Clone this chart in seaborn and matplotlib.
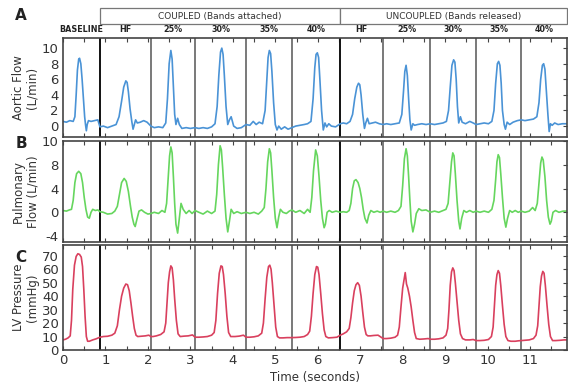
import numpy as np
import pandas as pd
import matplotlib
matplotlib.use("Agg")
import matplotlib.pyplot as plt
from matplotlib.patches import Rectangle
from matplotlib.ticker import MultipleLocator
import seaborn as sns

# ---------------- data ----------------
BEAT_EDGES = [0.87, 2.07, 3.11, 4.31, 5.39, 6.53, 7.54, 8.65, 9.73, 10.79]
BEAT_CENTERS = [0.435, 1.47, 2.59, 3.71, 4.85, 5.96, 7.035, 8.095, 9.19, 10.26, 11.33]
BEAT_LABELS = ["BASELINE", "HF", "25%", "30%", "35%", "40%", "HF", "25%", "30%", "35%", "40%"]
GROUP_LABELS = ["COUPLED (Bands attached)", "UNCOUPLED (Bands released)"]
GROUP_SPANS = [(0.87, 6.53), (6.53, 11.87)]

AORTIC_T = [
    0.00, 0.08, 0.16, 0.24, 0.28, 0.31, 0.34, 0.37, 0.39, 0.42, 0.45, 0.48, 0.51, 0.53, 0.55, 0.57, 0.60, 0.66, 0.74, 0.82,
    0.87, 0.95, 1.05, 1.15, 1.25, 1.32, 1.38, 1.43, 1.48, 1.51, 1.54, 1.58, 1.62, 1.65, 1.68, 1.71, 1.75, 1.82, 1.90, 1.98,
    2.07, 2.15, 2.25, 2.35, 2.42, 2.46, 2.50, 2.54, 2.57, 2.60, 2.63, 2.66, 2.70, 2.74, 2.80, 2.90, 3.00,
    3.11, 3.20, 3.30, 3.40, 3.50, 3.58, 3.63, 3.67, 3.71, 3.74, 3.77, 3.80, 3.84, 3.88, 3.92, 3.96, 4.02, 4.10, 4.20,
    4.31, 4.40, 4.48, 4.55, 4.62, 4.70, 4.76, 4.80, 4.83, 4.86, 4.89, 4.92, 4.96, 5.00, 5.04, 5.08, 5.14, 5.22, 5.30,
    5.39, 5.48, 5.58, 5.68, 5.76, 5.84, 5.89, 5.93, 5.96, 5.99, 6.02, 6.05, 6.09, 6.13, 6.17, 6.21, 6.26, 6.32, 6.42,
    6.53, 6.60, 6.68, 6.76, 6.82, 6.87, 6.92, 6.96, 6.99, 7.02, 7.06, 7.10, 7.13, 7.17, 7.21, 7.28, 7.36, 7.45,
    7.54, 7.62, 7.72, 7.82, 7.92, 7.98, 8.02, 8.05, 8.08, 8.11, 8.14, 8.17, 8.20, 8.24, 8.28, 8.35, 8.45, 8.55,
    8.65, 8.75, 8.85, 8.95, 9.03, 9.08, 9.12, 9.16, 9.20, 9.23, 9.26, 9.29, 9.32, 9.36, 9.40, 9.48, 9.58, 9.66,
    9.73, 9.82, 9.92, 10.02, 10.10, 10.15, 10.19, 10.23, 10.26, 10.29, 10.32, 10.35, 10.39, 10.42, 10.46, 10.52, 10.60, 10.70,
    10.79, 10.88, 10.98, 11.08, 11.16, 11.21, 11.25, 11.29, 11.32, 11.35, 11.38, 11.42, 11.45, 11.48, 11.52, 11.58, 11.66, 11.76, 11.87,
]
AORTIC_V = [
    0.6, 0.5, 0.7, 0.6, 1.2, 4.0, 7.2, 8.6, 8.7, 8.0, 6.0, 3.5, 1.2, 0.2, -0.6, 0.2, 0.7, 0.6, 0.7, 0.8,
    -0.1, 0.0, -0.2, 0.0, 0.2, 1.2, 3.2, 5.0, 5.8, 5.6, 4.4, 2.2, 0.6, -0.4, 0.2, 0.8, 0.4, 0.5, 0.7, 0.5,
    0.0, -0.2, -0.1, -0.2, 0.4, 3.5, 8.0, 9.7, 8.6, 5.0, 1.5, 0.2, 1.0, 0.2, -0.3, -0.2, -0.3,
    -0.2, -0.3, -0.2, -0.3, -0.1, 0.3, 2.5, 6.5, 9.5, 10.0, 9.2, 6.5, 2.5, 0.2, 0.8, 1.2, 0.0, -0.3, -0.2,
    0.2, 0.1, 0.6, 0.2, 0.5, 0.3, 2.0, 6.0, 8.8, 9.7, 9.3, 7.0, 3.0, 0.2, -0.5, 0.0, -0.4, -0.1, -0.4,
    -0.2, 0.0, 0.1, 0.2, 0.3, 0.6, 3.5, 7.5, 9.2, 9.4, 8.8, 6.0, 2.0, -0.5, 0.4, -0.1, 0.3, 0.0, -0.1,
    0.3, 0.4, 0.3, 0.6, 1.5, 3.5, 5.0, 5.5, 5.3, 4.0, 1.5, -0.3, 0.4, 1.0, 0.3, 0.4, 0.5, 0.3,
    0.2, 0.3, 0.2, 0.3, 0.4, 1.5, 4.5, 7.0, 7.8, 6.5, 3.5, 0.8, -0.5, 0.3, 0.1, 0.2, 0.3, 0.2,
    0.3, 0.2, 0.3, 0.4, 0.6, 2.0, 5.0, 7.8, 8.5, 8.2, 6.0, 2.5, 0.4, 1.2, 0.5, 0.3, 0.6, 0.4,
    0.2, 0.3, 0.4, 0.3, 0.6, 2.0, 5.5, 8.0, 8.3, 7.8, 5.5, 2.0, 0.2, -0.4, 0.5, 0.2, 0.5, 0.7,
    0.8, 0.7, 0.8, 0.9, 1.2, 3.0, 6.0, 7.8, 8.0, 7.3, 4.8, 1.5, -0.7, 0.3, 0.1, 0.4, 0.2, 0.3, 0.3,
]

PULM_T = [
    0.00, 0.08, 0.15, 0.20, 0.24, 0.28, 0.32, 0.37, 0.42, 0.46, 0.50, 0.54, 0.58, 0.62, 0.66, 0.70, 0.76, 0.82,
    0.87, 0.95, 1.05, 1.15, 1.22, 1.28, 1.33, 1.38, 1.44, 1.49, 1.54, 1.59, 1.63, 1.67, 1.70, 1.74, 1.79, 1.85, 1.92, 2.00,
    2.07, 2.15, 2.25, 2.33, 2.40, 2.44, 2.48, 2.51, 2.54, 2.57, 2.60, 2.63, 2.66, 2.70, 2.74, 2.78, 2.83, 2.90, 2.97, 3.04,
    3.11, 3.20, 3.30, 3.40, 3.50, 3.58, 3.62, 3.66, 3.70, 3.73, 3.76, 3.80, 3.84, 3.88, 3.92, 3.96, 4.02, 4.10, 4.20,
    4.31, 4.40, 4.50, 4.60, 4.68, 4.74, 4.78, 4.82, 4.86, 4.89, 4.92, 4.96, 5.00, 5.04, 5.08, 5.12, 5.18, 5.26, 5.33,
    5.39, 5.48, 5.58, 5.68, 5.76, 5.82, 5.86, 5.90, 5.95, 5.99, 6.03, 6.07, 6.11, 6.15, 6.18, 6.22, 6.27, 6.34, 6.43,
    6.53, 6.60, 6.68, 6.74, 6.78, 6.82, 6.86, 6.90, 6.95, 6.99, 7.03, 7.07, 7.11, 7.16, 7.20, 7.25, 7.32, 7.40, 7.47,
    7.54, 7.62, 7.72, 7.82, 7.90, 7.96, 8.00, 8.04, 8.08, 8.11, 8.14, 8.17, 8.20, 8.24, 8.28, 8.32, 8.38, 8.45, 8.55,
    8.65, 8.75, 8.85, 8.95, 9.02, 9.07, 9.11, 9.15, 9.18, 9.21, 9.24, 9.28, 9.32, 9.35, 9.39, 9.44, 9.50, 9.58, 9.66,
    9.73, 9.82, 9.92, 10.02, 10.10, 10.15, 10.19, 10.22, 10.25, 10.28, 10.31, 10.35, 10.39, 10.43, 10.47, 10.52, 10.58, 10.65, 10.72,
    10.79, 10.88, 10.98, 11.06, 11.12, 11.17, 11.21, 11.25, 11.28, 11.31, 11.35, 11.39, 11.43, 11.47, 11.50, 11.54, 11.60, 11.68, 11.78, 11.87,
]
PULM_V = [
    0.3, 0.2, 0.4, 0.5, 2.0, 5.0, 6.5, 6.9, 6.5, 5.0, 2.5, 0.5, -0.8, -1.0, 0.0, 0.5, 0.3, 0.4,
    0.1, 0.0, -0.3, -0.2, 0.2, 1.0, 3.0, 5.0, 5.7, 5.2, 3.5, 1.0, -0.8, -2.0, -2.4, -1.2, 0.2, 0.4, 0.0, -0.3,
    -0.2, 0.0, -0.2, 0.3, 0.0, 1.5, 6.0, 9.5, 11.0, 10.0, 6.0, 1.5, -2.0, -3.5, -1.0, 1.5, 0.5, -0.2, 0.3, -0.2,
    0.3, 0.0, -0.3, 0.2, -0.2, 0.2, 3.0, 8.0, 11.2, 10.5, 7.5, 3.0, -1.0, -3.3, -1.5, 0.5, -0.2, 0.1, -0.2,
    0.0, -0.2, 0.0, -0.3, 0.2, 0.8, 4.0, 8.5, 10.7, 10.0, 7.0, 2.5, -1.0, -2.6, -0.8, 0.5, 0.0, -0.2, 0.2,
    0.4, 0.0, 0.3, -0.2, 0.5, 0.0, 2.5, 7.0, 10.5, 9.5, 6.0, 2.0, -1.0, -2.6, -2.0, 0.0, 0.3, 0.0, 0.2,
    0.0, 0.1, 0.0, 0.3, 1.5, 4.0, 5.3, 5.5, 5.0, 4.0, 2.5, 0.5, -1.0, -1.8, -0.5, 0.3, 0.0, 0.2, 0.0,
    0.2, 0.0, 0.2, 0.0, 0.3, 1.0, 4.5, 9.0, 10.7, 9.5, 6.0, 2.0, -1.5, -3.3, -2.0, -0.2, 0.6, 0.3, 0.4,
    0.0, 0.2, 0.0, 0.3, 0.5, 1.5, 5.0, 8.5, 10.0, 9.5, 6.5, 2.0, -1.5, -2.8, -1.0, 0.3, 0.0, 0.3, 0.0,
    0.2, 0.0, 0.2, 0.0, 0.5, 2.0, 5.5, 8.5, 9.7, 9.2, 6.5, 2.5, -1.0, -2.5, -1.0, 0.3, 0.0, 0.3, 0.0,
    0.2, 0.0, 0.2, 0.8, 0.3, 1.5, 5.0, 8.3, 9.3, 8.8, 6.0, 2.0, -0.8, -2.0, -1.5, 0.0, 0.3, 0.0, 0.2, 0.2,
]

LVP_T = [
    0.00, 0.06, 0.12, 0.17, 0.20, 0.23, 0.27, 0.31, 0.35, 0.39, 0.43, 0.46, 0.49, 0.52, 0.55, 0.58, 0.62, 0.70, 0.78,
    0.87, 0.95, 1.05, 1.15, 1.22, 1.28, 1.33, 1.38, 1.43, 1.48, 1.52, 1.56, 1.60, 1.64, 1.68, 1.72, 1.76, 1.84, 1.94, 2.02,
    2.07, 2.12, 2.20, 2.30, 2.38, 2.42, 2.45, 2.48, 2.51, 2.54, 2.57, 2.60, 2.63, 2.67, 2.71, 2.76, 2.85, 2.95, 3.05,
    3.11, 3.20, 3.30, 3.40, 3.50, 3.56, 3.60, 3.64, 3.68, 3.72, 3.75, 3.78, 3.82, 3.86, 3.90, 3.95, 4.05, 4.15, 4.25,
    4.31, 4.40, 4.50, 4.60, 4.68, 4.72, 4.76, 4.80, 4.84, 4.87, 4.90, 4.93, 4.97, 5.01, 5.05, 5.10, 5.18, 5.28,
    5.39, 5.48, 5.58, 5.68, 5.76, 5.81, 5.85, 5.89, 5.93, 5.97, 6.00, 6.03, 6.07, 6.11, 6.15, 6.19, 6.25, 6.35, 6.45,
    6.53, 6.60, 6.68, 6.74, 6.78, 6.82, 6.86, 6.90, 6.94, 6.98, 7.02, 7.06, 7.10, 7.14, 7.18, 7.24, 7.32, 7.42,
    7.54, 7.62, 7.72, 7.82, 7.88, 7.92, 7.96, 8.00, 8.03, 8.06, 8.09, 8.12, 8.16, 8.20, 8.24, 8.28, 8.32, 8.40, 8.50, 8.60,
    8.65, 8.75, 8.85, 8.95, 9.02, 9.06, 9.09, 9.12, 9.15, 9.18, 9.21, 9.24, 9.28, 9.32, 9.36, 9.41, 9.48, 9.58, 9.66,
    9.73, 9.82, 9.92, 10.02, 10.09, 10.13, 10.16, 10.19, 10.22, 10.25, 10.28, 10.31, 10.35, 10.39, 10.43, 10.48, 10.55, 10.65, 10.72,
    10.79, 10.88, 10.98, 11.08, 11.14, 11.18, 11.21, 11.24, 11.27, 11.30, 11.33, 11.36, 11.40, 11.44, 11.48, 11.53, 11.60, 11.70, 11.80, 11.87,
]
LVP_V = [
    7.5, 8.0, 9.0, 10.5, 22, 45, 63, 69.5, 71.5, 71, 69, 62, 45, 25, 10, 6.5, 6.5, 7.5, 8.3,
    9.5, 10.0, 10.2, 11.0, 12.5, 18, 30, 40, 46, 49, 48.5, 44, 35, 25, 16, 11, 10, 10.2, 10.5, 11,
    10.0, 10.0, 10.5, 11.5, 13.5, 20, 35, 50, 58, 62.5, 61, 52, 38, 22, 12, 10, 10.3, 10.5, 11.2,
    9.5, 9.5, 9.7, 10.0, 11.0, 13, 22, 42, 57, 62.5, 62, 56, 42, 25, 13, 10, 10.0, 10.3, 11,
    9.5, 9.5, 9.8, 10.5, 12.5, 20, 38, 54, 62, 63, 60, 50, 33, 17, 10, 9.0, 9.0, 9.2,
    9.2, 9.3, 9.5, 10.0, 11.5, 14, 25, 42, 56, 62, 61.5, 56, 42, 27, 15, 10, 9.0, 9.2, 9.5,
    11, 12, 13.5, 16, 24, 35, 44, 48.5, 50, 48, 40, 28, 17, 11.5, 10.5, 10.5, 10.8, 11,
    8.5, 8.5, 8.8, 9.5, 11, 17, 32, 46, 52, 57.5, 49, 46, 40, 32, 22, 13, 8.5, 8.0, 8.2, 8.5,
    8.0, 8.0, 8.3, 9.0, 11, 16, 30, 48, 58, 61, 59, 50, 36, 22, 12, 8.5, 7.5, 7.5, 7.8,
    7.0, 7.0, 7.2, 7.8, 10, 17, 32, 48, 56, 59, 57, 48, 33, 19, 10, 7.0, 6.5, 6.5, 6.8,
    7.0, 7.2, 7.5, 8.5, 11, 18, 32, 47, 55, 58.4, 57, 48, 33, 19, 10, 7.0, 7.0, 7.2, 7.5, 7.5,
]

PANEL_LETTERS = ["A", "B", "C"]
Y_LABELS = ["Aortic Flow\n(L/min)", "Pulmonary\nFlow (L/min)", "LV Pressure\n(mmHg)"]
A_YTICKS = [0, 2, 4, 6, 8, 10]
B_YTICKS = [-4, 0, 4, 8, 12]
B_YTICKLABELS = ["-4", "0", "4", "8", "10"]
C_YTICKS = [0, 10, 20, 30, 40, 50, 60, 70]
X_TICKS = list(range(0, 12))

# ---------------- style ----------------
sns.set_theme(style="ticks")
plt.rcParams["font.family"] = ["DejaVu Sans"]

COLORS = ["#4a93d6", "#66d65e", "#d9405e"]
TXT = "#333333"

fig = plt.figure(figsize=(5.68, 3.87), dpi=100)
W, H = 568.0, 387.0
left, right = 63 / W, 567 / W
boxes = [(38, 137), (141, 242), (245, 350)]
axes = []
for top, bot in boxes:
    ax = fig.add_axes([left, 1 - bot / H, right - left, (bot - top) / H])
    axes.append(ax)

series = [(AORTIC_T, AORTIC_V), (PULM_T, PULM_V), (LVP_T, LVP_V)]
ylims = [(-1.4, 11.3), (-5.0, 12.0), (0, 78)]

for i, ax in enumerate(axes):
    t, v = series[i]
    df = pd.DataFrame({"t": t, "v": v})
    sns.lineplot(data=df, x="t", y="v", ax=ax, color=COLORS[i], linewidth=1.2,
                 sort=False, estimator=None, legend=False)
    ax.set_xlim(0, 11.87)
    ax.set_ylim(*ylims[i])
    for xe in BEAT_EDGES:
        thick = xe in (0.87, 6.53)
        ax.axvline(xe, color="#111111" if thick else "#555555",
                   lw=1.4 if thick else 1.1, zorder=1)
    for s in ax.spines.values():
        s.set_color("#444444")
        s.set_linewidth(1.2)
    ax.xaxis.set_major_locator(MultipleLocator(1))
    ax.xaxis.set_minor_locator(MultipleLocator(0.5))
    ax.tick_params(axis="x", which="both", direction="in", top=True, bottom=True,
                   length=3, width=0.8, color="#444444")
    ax.tick_params(axis="y", which="both", direction="in", left=False, right=True,
                   length=3, width=0.8, color="#444444", labelsize=9.5, labelcolor=TXT, pad=3)
    ax.set_xlabel("")
    ax.set_ylabel(Y_LABELS[i], fontsize=8.5, color=TXT, linespacing=1.1)
    if i < 2:
        ax.tick_params(axis="x", labelbottom=False)
    else:
        ax.set_xticks(X_TICKS)
        ax.tick_params(axis="x", labelsize=9.5, labelcolor=TXT, pad=3)
        ax.set_xlabel("Time (seconds)", fontsize=8.5, color=TXT, labelpad=3)

axes[0].set_yticks(A_YTICKS)
axes[1].set_yticks(B_YTICKS)
axes[1].set_yticklabels(B_YTICKLABELS)
axes[2].set_yticks(C_YTICKS)

for ax in axes:
    ax.yaxis.set_label_coords(-24 / 504.0, 0.5)

# panel letters
for letter, ypx in zip(PANEL_LETTERS, [15, 143, 257]):
    fig.text(21 / W, 1 - ypx / H, letter, fontsize=11, fontweight="bold",
             color="#222222", ha="center", va="center")

# column headers
ax0 = axes[0]
trans = ax0.get_xaxis_transform()
hA = 99.0
for xc, lab in zip(BEAT_CENTERS, BEAT_LABELS):
    ax0.text(xc, 1 + 8 / hA, lab, transform=trans, ha="center", va="center",
             fontsize=5.8, fontweight="bold", color="#222222", clip_on=False)
for (x0, x1), lab in zip(GROUP_SPANS, GROUP_LABELS):
    rect = Rectangle((x0, 1 + 14 / hA), x1 - x0, 16 / hA, transform=trans,
                     facecolor="white", edgecolor="#777777", lw=0.9, clip_on=False)
    ax0.add_patch(rect)
    ax0.text((x0 + x1) / 2, 1 + 22 / hA, lab, transform=trans, ha="center", va="center",
             fontsize=6.5, color="#333333", clip_on=False)

fig.savefig("out.png", dpi=100)
